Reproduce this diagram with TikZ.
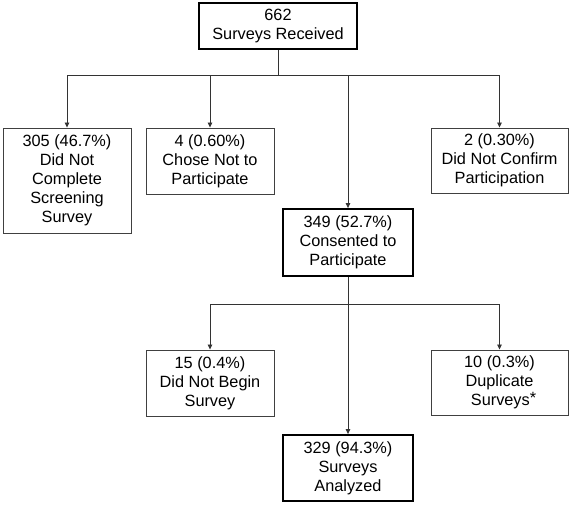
\documentclass[tikz,border=0pt]{standalone}
\usepackage{fontspec}
\setmainfont{Liberation Sans}
\usetikzlibrary{arrows.meta}
\begin{document}
\begin{tikzpicture}[x=1pt,y=-1pt,
  box/.style={draw=black!75, line width=0.9pt, align=center, inner sep=0pt,
    font=\fontsize{16.3}{19.1}\selectfont, text=black},
  mainbox/.style={box, draw=black, line width=1.8pt},
  conn/.style={draw=black!80, line width=0.8pt},
  arr/.style={conn, -{Triangle[length=5pt,width=4.5pt]}}]
\useasboundingbox (0,0) rectangle (573,505);
\node[mainbox, minimum width=158pt, minimum height=46pt] (top) at (278,26) {662\\Surveys Received};
\node[box, minimum width=128pt, minimum height=105pt] (b1) at (67,180.5) {305 (46.7\%)\\Did Not\\Complete\\Screening\\Survey};
\node[box, minimum width=128pt, minimum height=66pt] (b2) at (210,161) {4 (0.60\%)\\Chose Not to\\Participate};
\node[box, minimum width=137pt, minimum height=65pt] (b3) at (499.5,160.5) {2 (0.30\%)\\Did Not Confirm\\Participation};
\node[mainbox, minimum width=130pt, minimum height=67pt] (mid) at (348,242.5) {349 (52.7\%)\\Consented to\\Participate};
\node[box, minimum width=128pt, minimum height=66pt] (b15) at (210,383) {15 (0.4\%)\\Did Not Begin\\Survey};
\node[box, minimum width=137pt, minimum height=65pt] (b10) at (499.5,382.5) {10 (0.3\%)\\Duplicate\\\hspace*{8pt}Surveys\raisebox{0.15em}{*}};
\node[mainbox, minimum width=130pt, minimum height=66pt] (b329) at (348,468) {329 (94.3\%)\\Surveys\\Analyzed};
\coordinate (h1) at (278,75);
\coordinate (h2) at (348,304);
\draw[conn] (top.south) -- (h1);
\draw[arr] (h1) -| (b1.north);
\draw[arr] (h1) -| (b2.north);
\draw[arr] (h1) -| (mid.north);
\draw[arr] (h1) -| (b3.north);
\draw[conn] (mid.south) -- (h2);
\draw[arr] (h2) -| (b15.north);
\draw[arr] (h2) -| (b10.north);
\draw[arr] (h2) -- (b329.north);
\end{tikzpicture}
\end{document}
